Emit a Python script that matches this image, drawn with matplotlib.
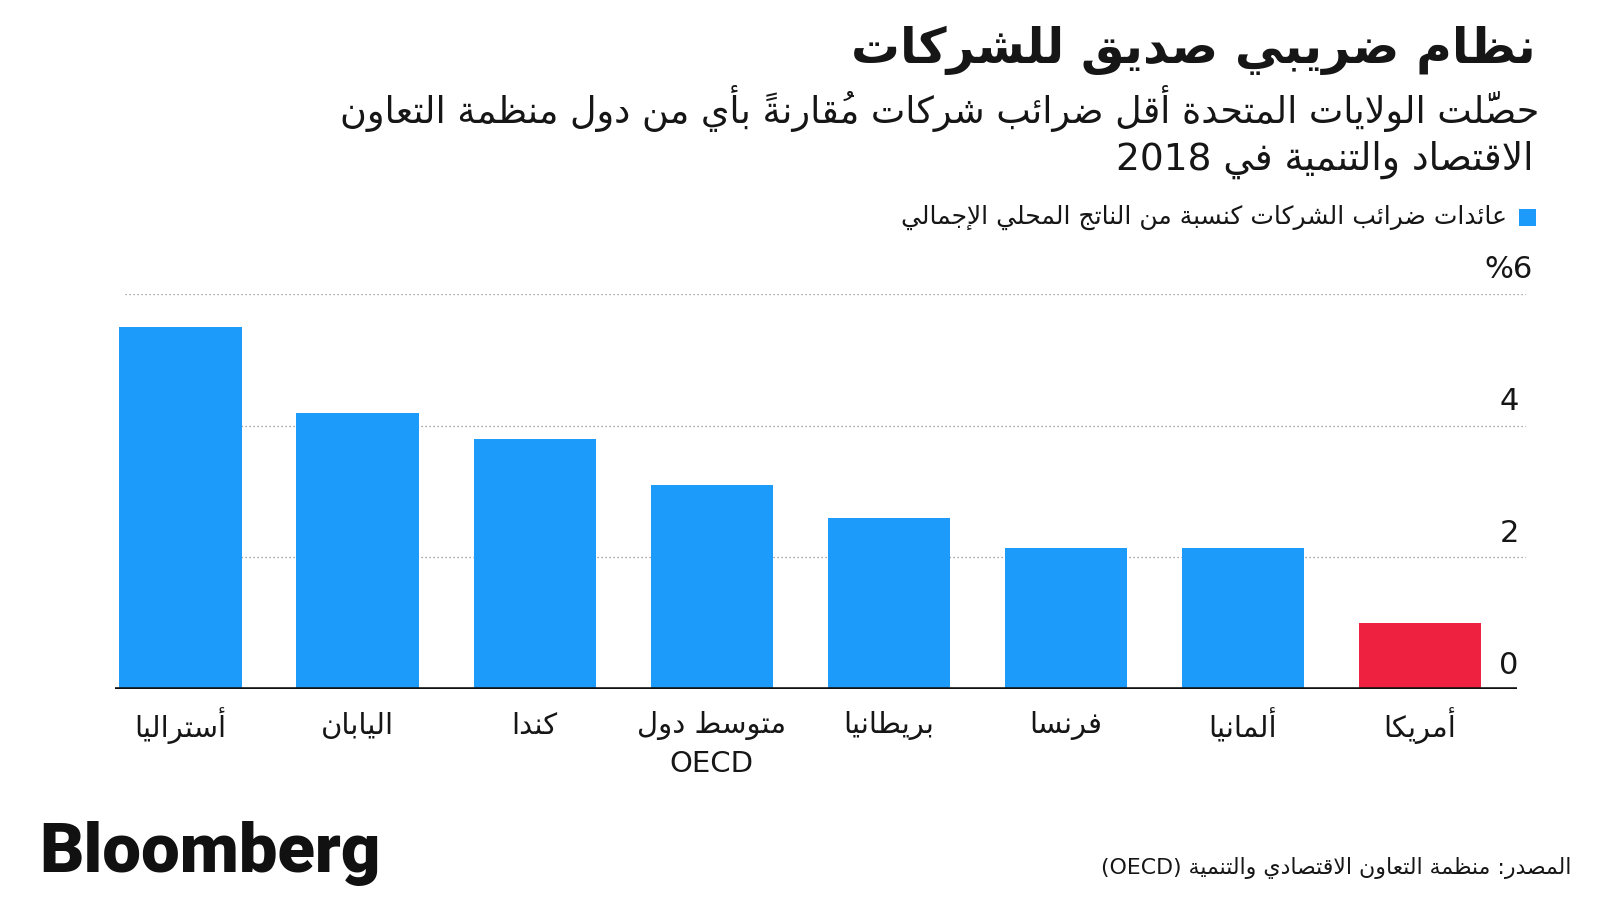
import re
import matplotlib
matplotlib.use("Agg")
import matplotlib.pyplot as plt
from matplotlib.transforms import offset_copy, blended_transform_factory
from matplotlib.patches import Rectangle

# ---------------- data ----------------
categories = ['أستراليا', 'اليابان', 'كندا', 'متوسط دول\nOECD', 'بريطانيا', 'فرنسا', 'ألمانيا', 'أمريكا']
values = [5.5, 4.2, 3.8, 3.1, 2.6, 2.14, 2.14, 1.0]
highlight = 'أمريكا'
yticks = [0, 2, 4, 6]
ytick_labels = ['0', '2', '4', '%6']

title = 'نظام ضريبي صديق للشركات'
subtitle_lines = ['حصَّلت الولايات المتحدة أقل ضرائب شركات مُقارنةً بأي من دول منظمة التعاون',
                  'الاقتصاد والتنمية في 2018']
legend_label = 'عائدات ضرائب الشركات كنسبة من الناتج المحلي الإجمالي'
source = 'المصدر: منظمة التعاون الاقتصادي والتنمية (OECD)'

BLUE = '#1C9BFA'
RED = '#EE2140'
INK = '#161616'

# ---------------- minimal Arabic shaping + bidi ----------------
FORMS = {
    '\u0621': ('\uFE80', None, None, None),
    '\u0622': ('\uFE81', '\uFE82', None, None),
    '\u0623': ('\uFE83', '\uFE84', None, None),
    '\u0624': ('\uFE85', '\uFE86', None, None),
    '\u0625': ('\uFE87', '\uFE88', None, None),
    '\u0626': ('\uFE89', '\uFE8A', '\uFE8B', '\uFE8C'),
    '\u0627': ('\uFE8D', '\uFE8E', None, None),
    '\u0628': ('\uFE8F', '\uFE90', '\uFE91', '\uFE92'),
    '\u0629': ('\uFE93', '\uFE94', None, None),
    '\u062A': ('\uFE95', '\uFE96', '\uFE97', '\uFE98'),
    '\u062B': ('\uFE99', '\uFE9A', '\uFE9B', '\uFE9C'),
    '\u062C': ('\uFE9D', '\uFE9E', '\uFE9F', '\uFEA0'),
    '\u062D': ('\uFEA1', '\uFEA2', '\uFEA3', '\uFEA4'),
    '\u062E': ('\uFEA5', '\uFEA6', '\uFEA7', '\uFEA8'),
    '\u062F': ('\uFEA9', '\uFEAA', None, None),
    '\u0630': ('\uFEAB', '\uFEAC', None, None),
    '\u0631': ('\uFEAD', '\uFEAE', None, None),
    '\u0632': ('\uFEAF', '\uFEB0', None, None),
    '\u0633': ('\uFEB1', '\uFEB2', '\uFEB3', '\uFEB4'),
    '\u0634': ('\uFEB5', '\uFEB6', '\uFEB7', '\uFEB8'),
    '\u0635': ('\uFEB9', '\uFEBA', '\uFEBB', '\uFEBC'),
    '\u0636': ('\uFEBD', '\uFEBE', '\uFEBF', '\uFEC0'),
    '\u0637': ('\uFEC1', '\uFEC2', '\uFEC3', '\uFEC4'),
    '\u0638': ('\uFEC5', '\uFEC6', '\uFEC7', '\uFEC8'),
    '\u0639': ('\uFEC9', '\uFECA', '\uFECB', '\uFECC'),
    '\u063A': ('\uFECD', '\uFECE', '\uFECF', '\uFED0'),
    '\u0641': ('\uFED1', '\uFED2', '\uFED3', '\uFED4'),
    '\u0642': ('\uFED5', '\uFED6', '\uFED7', '\uFED8'),
    '\u0643': ('\uFED9', '\uFEDA', '\uFEDB', '\uFEDC'),
    '\u0644': ('\uFEDD', '\uFEDE', '\uFEDF', '\uFEE0'),
    '\u0645': ('\uFEE1', '\uFEE2', '\uFEE3', '\uFEE4'),
    '\u0646': ('\uFEE5', '\uFEE6', '\uFEE7', '\uFEE8'),
    '\u0647': ('\uFEE9', '\uFEEA', '\uFEEB', '\uFEEC'),
    '\u0648': ('\uFEED', '\uFEEE', None, None),
    '\u0649': ('\uFEEF', '\uFEF0', None, None),
    '\u064A': ('\uFEF1', '\uFEF2', '\uFEF3', '\uFEF4'),
}
LAMALEF = {'\u0622': ('\uFEF5', '\uFEF6'), '\u0623': ('\uFEF7', '\uFEF8'),
           '\u0625': ('\uFEF9', '\uFEFA'), '\u0627': ('\uFEFB', '\uFEFC')}
MIRROR = {'(': ')', ')': '(', '[': ']', ']': '['}


def _is_mark(c):
    return '\u064B' <= c <= '\u0652' or c == '\u0670'


def _joins_left(b):
    if b.startswith('LA'):
        return False
    f = FORMS.get(b)
    return f is not None and f[2] is not None


def _joins_right(b):
    if b.startswith('LA'):
        return True
    f = FORMS.get(b)
    return f is not None and f[1] is not None


def _shape_rtl(s):
    tokens = []
    for c in s:
        if _is_mark(c) and tokens:
            tokens[-1][1].append(c)
        else:
            tokens.append([c, []])
    merged = []
    j = 0
    while j < len(tokens):
        b, m = tokens[j]
        if b == '\u0644' and j + 1 < len(tokens) and tokens[j + 1][0] in LAMALEF:
            merged.append(['LA' + tokens[j + 1][0], m + tokens[j + 1][1]])
            j += 2
        else:
            merged.append([b, m])
            j += 1
    out = []
    for k, (b, m) in enumerate(merged):
        prev = merged[k - 1][0] if k > 0 else None
        nxt = merged[k + 1][0] if k + 1 < len(merged) else None
        pj = prev is not None and _joins_left(prev) and _joins_right(b)
        nj = nxt is not None and _joins_left(b) and _joins_right(nxt)
        if b.startswith('LA'):
            iso, fin = LAMALEF[b[2]]
            g = fin if pj else iso
        elif b in FORMS:
            iso, fin, ini, med = FORMS[b]
            if pj and nj and med:
                g = med
            elif pj and fin:
                g = fin
            elif nj and ini:
                g = ini
            else:
                g = iso
        else:
            g = MIRROR.get(b, b)
        # marks first so that they are drawn over their (following) base glyph
        out.append(''.join(m) + g)
    return ''.join(reversed(out))


def ar(s):
    """Return visual-order, shaped text for an RTL paragraph."""
    pat = r'[A-Za-z0-9%]+(?:[ .,][A-Za-z0-9%]+)*'
    parts = re.split('(' + pat + ')', s)
    vis = []
    for p in parts:
        if not p:
            continue
        if re.fullmatch(pat, p):
            vis.append(p)
        else:
            vis.append(_shape_rtl(p))
    return ''.join(reversed(vis))


# ---------------- figure ----------------
W, H = 1600, 901
fig = plt.figure(figsize=(W / 100, H / 100), dpi=100)
fig.patch.set_facecolor('white')

AR_FONT = ['DejaVu Sans']


def px(x, y):
    return x / W, 1 - y / H


# axes: left 115px, right 1526px, zero at 689px, 6 at 294px
ax_l, ax_r, ax_b, ax_t = 115, 1526, 689, 294
ax = fig.add_axes([ax_l / W, 1 - ax_b / H, (ax_r - ax_l) / W, (ax_b - ax_t) / H])
ax.set_xlim(-0.370, 7.599)
ax.set_ylim(0, 6)
ax.axis('off')

xs = list(range(len(categories)))
colors = [RED if c == highlight else BLUE for c in categories]
ax.bar(xs, values, width=0.69, color=colors, zorder=2)

for t in yticks:
    if t == 0:
        ax.axhline(0, xmin=0, xmax=(1517 - ax_l) / (ax_r - ax_l), color='#111111', lw=2.6, zorder=3,
                   solid_capstyle='butt')
    else:
        ax.axhline(t, xmin=(125 - ax_l) / (ax_r - ax_l), xmax=1.0, color='#8a8a8a', lw=0.9,
                   linestyle=(0, (1, 2.2)), zorder=1)

btrans = blended_transform_factory(ax.transAxes, ax.transData)
for t, lab in zip(yticks, ytick_labels):
    ax.text((1509 - ax_l) / (ax_r - ax_l), t, lab, transform=offset_copy(btrans, fig=fig, x=0, y=24, units='dots'),
            ha='center', va='center', fontsize=22, color=INK, family='DejaVu Sans')

for x, c in zip(xs, categories):
    for i, line in enumerate(c.split('\n')):
        ax.text(x, 0, ar(line), transform=offset_copy(ax.transData, fig=fig, x=0, y=-37 - 38 * i, units='dots'),
                ha='center', va='center', fontsize=21, color=INK, family=AR_FONT)

# title / subtitle
fig.text(*px(1536, 50), ar(title), ha='right', va='center', fontsize=35, fontweight='bold',
         color=INK, family=AR_FONT)
fig.text(*px(1539, 108), ar(subtitle_lines[0]), ha='right', va='center', fontsize=26.3,
         color=INK, family=AR_FONT)
fig.text(*px(1534, 160), ar(subtitle_lines[1]), ha='right', va='center', fontsize=27,
         color=INK, family=AR_FONT)

# legend
fig.patches.append(Rectangle(px(1519, 226), 17 / W, 17 / H, transform=fig.transFigure,
                             facecolor=BLUE, edgecolor='none'))
fig.text(*px(1507, 217), ar(legend_label), ha='right', va='center', fontsize=18,
         color=INK, family=AR_FONT)

# footer
fig.text(*px(39, 872), 'Bloomberg', ha='left', va='baseline', fontsize=49.5, fontweight='heavy',
         color='#111111', family=['Roboto', 'DejaVu Sans'])
fig.text(*px(1571, 868), ar(source), ha='right', va='center', fontsize=15.8,
         color=INK, family=AR_FONT)

fig.savefig('out.png', dpi=100, facecolor='white')
